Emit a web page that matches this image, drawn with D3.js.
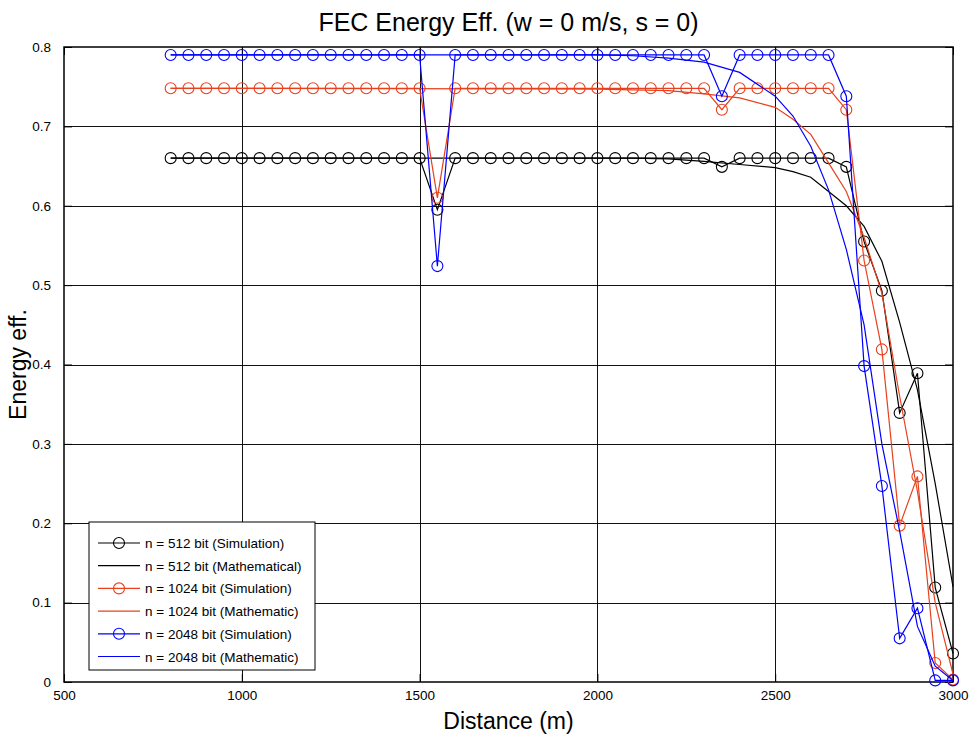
<!DOCTYPE html>
<html>
<head>
<meta charset="utf-8">
<script src="https://cdn.jsdelivr.net/npm/d3@7"></script>
<style>
  body { margin: 0; background: #fff; }
  svg { font-family: "Liberation Sans", Arial, sans-serif; }
</style>
</head>
<body>
<svg id="chart" width="971" height="738"></svg>
<script>
// simulation points: 800..3000 every 50 m
const simX = d3.range(800, 3001, 50);
const sim512 = [0.66,0.66,0.66,0.66,0.66,0.66,0.66,0.66,0.66,0.66,0.66,0.66,0.66,0.66,0.66,
  0.595,0.66,0.66,0.66,0.66,0.66,0.66,0.66,0.66,0.66,0.66,0.66,0.66,0.66,0.66,0.66,
  0.649,0.66,0.66,0.66,0.66,0.66,0.66,0.649,0.555,0.493,0.339,0.389,0.119,0.036];
const sim1024 = [0.748,0.748,0.748,0.748,0.748,0.748,0.748,0.748,0.748,0.748,0.748,0.748,0.748,0.748,0.748,
  0.61,0.748,0.748,0.748,0.748,0.748,0.748,0.748,0.748,0.748,0.748,0.748,0.748,0.748,0.748,0.748,
  0.721,0.748,0.748,0.748,0.748,0.748,0.748,0.721,0.531,0.419,0.197,0.259,0.024,0.003];
const sim2048 = [0.79,0.79,0.79,0.79,0.79,0.79,0.79,0.79,0.79,0.79,0.79,0.79,0.79,0.79,0.79,
  0.524,0.79,0.79,0.79,0.79,0.79,0.79,0.79,0.79,0.79,0.79,0.79,0.79,0.79,0.79,0.79,
  0.738,0.79,0.79,0.79,0.79,0.79,0.79,0.738,0.398,0.247,0.055,0.093,0.002,0.002];

// mathematical curves
const mathX = [800, 2000, 2100, 2200, 2300, 2400, 2500, 2550, 2600, 2650, 2700, 2750, 2800, 2850, 2900, 2950, 3000];
const math512 = [0.66, 0.66, 0.66, 0.659, 0.656, 0.652, 0.648, 0.643, 0.636, 0.618, 0.6, 0.574, 0.53, 0.453, 0.368, 0.25, 0.12];
const math1024 = [0.748, 0.747, 0.746, 0.745, 0.741, 0.736, 0.724, 0.709, 0.69, 0.654, 0.618, 0.56, 0.49, 0.36, 0.24, 0.1, 0.01];
const math2048 = [0.79, 0.79, 0.789, 0.786, 0.781, 0.768, 0.738, 0.713, 0.675, 0.62, 0.545, 0.45, 0.3, 0.19, 0.07, 0.02, 0.002];

const xTicks = [500, 1000, 1500, 2000, 2500, 3000];
const yTicks = [0, 0.1, 0.2, 0.3, 0.4, 0.5, 0.6, 0.7, 0.8];

const legendLabels = [
  "n = 512 bit (Simulation)",
  "n = 512 bit (Mathematical)",
  "n = 1024 bit (Simulation)",
  "n = 1024 bit (Mathematic)",
  "n = 2048 bit (Simulation)",
  "n = 2048 bit (Mathematic)"
];

const red = "#e8401c";
const series = [
  { x: simX, y: sim512, color: "#000", marker: true },
  { x: mathX, y: math512, color: "#000", marker: false },
  { x: simX, y: sim1024, color: red, marker: true },
  { x: mathX, y: math1024, color: red, marker: false },
  { x: simX, y: sim2048, color: "#0000ff", marker: true },
  { x: mathX, y: math2048, color: "#0000ff", marker: false }
];

const svg = d3.select("#chart");
const margin = { top: 47, right: 18, bottom: 56, left: 64 };
const W = 971, H = 738;
const innerW = W - margin.left - margin.right;
const innerH = H - margin.top - margin.bottom;

const x = d3.scaleLinear().domain([500, 3000]).range([0, innerW]);
const y = d3.scaleLinear().domain([0, 0.8]).range([innerH, 0]);

const g = svg.append("g").attr("transform", `translate(${margin.left},${margin.top})`);

// grid lines (MATLAB dotted grid, reads almost solid)
g.append("g").selectAll("line").data(xTicks.slice(1, -1)).join("line")
  .attr("x1", d => Math.round(x(d)) + 0.5).attr("x2", d => Math.round(x(d)) + 0.5)
  .attr("y1", 0).attr("y2", innerH)
  .attr("stroke", "#111").attr("shape-rendering", "crispEdges");
g.append("g").selectAll("line").data(yTicks.slice(1, -1)).join("line")
  .attr("y1", d => Math.round(y(d)) + 0.5).attr("y2", d => Math.round(y(d)) + 0.5)
  .attr("x1", 0).attr("x2", innerW)
  .attr("stroke", "#111").attr("shape-rendering", "crispEdges");

// axes (ticks inward, mirrored on top/right)
const axisStyle = sel => {
  sel.selectAll(".domain").remove();
  sel.selectAll("text").attr("font-size", "13.5px").attr("fill", "#000")
    .attr("font-family", "Liberation Sans, Arial, sans-serif");
  sel.selectAll("line").attr("stroke", "#000");
};
g.append("g").attr("transform", `translate(0,${innerH})`)
  .call(d3.axisBottom(x).tickValues(xTicks).tickSizeInner(-8).tickPadding(8).tickFormat(d3.format("d")))
  .call(axisStyle);
g.append("g")
  .call(d3.axisLeft(y).tickValues(yTicks).tickSizeInner(-8).tickPadding(13).tickFormat(d => d === 0 ? "0" : d3.format(".1f")(d)))
  .call(axisStyle);
g.append("g")
  .call(d3.axisTop(x).tickValues(xTicks).tickSizeInner(-8).tickFormat(""))
  .call(axisStyle);
g.append("g").attr("transform", `translate(${innerW},0)`)
  .call(d3.axisRight(y).tickValues(yTicks).tickSizeInner(-8).tickFormat(""))
  .call(axisStyle);

g.append("rect").attr("width", innerW).attr("height", innerH)
  .attr("fill", "none").attr("stroke", "#000").attr("stroke-width", 1.5);

// data
const line = d3.line().x(d => x(d[0])).y(d => y(d[1]));
series.forEach(s => {
  const pts = s.x.map((v, i) => [v, s.y[i]]);
  g.append("path").datum(pts).attr("d", line)
    .attr("fill", "none").attr("stroke", s.color).attr("stroke-width", 1.2);
  if (s.marker) {
    g.append("g").selectAll("circle").data(pts).join("circle")
      .attr("cx", d => x(d[0])).attr("cy", d => y(d[1])).attr("r", 5.5)
      .attr("fill", "none").attr("stroke", s.color).attr("stroke-width", 1.1);
  }
});

// legend
const lg = svg.append("g").attr("transform", "translate(89,522)");
lg.append("rect").attr("width", 226).attr("height", 148)
  .attr("fill", "#fff").attr("stroke", "#000").attr("stroke-width", 1);
series.forEach((s, i) => {
  const ly = 21 + i * 22.7;
  lg.append("line").attr("x1", 9).attr("x2", 51).attr("y1", ly).attr("y2", ly)
    .attr("stroke", s.color).attr("stroke-width", 1.2);
  if (s.marker) {
    lg.append("circle").attr("cx", 30).attr("cy", ly).attr("r", 5.5)
      .attr("fill", "none").attr("stroke", s.color).attr("stroke-width", 1.1);
  }
  lg.append("text").attr("x", 56).attr("y", ly + 5).attr("font-size", "13.5px")
    .text(legendLabels[i]);
});

// titles
svg.append("text").attr("x", margin.left + innerW / 2).attr("y", 31)
  .attr("text-anchor", "middle").attr("font-size", "25px").text("FEC Energy Eff. (w = 0 m/s, s = 0)");
svg.append("text").attr("x", margin.left + innerW / 2).attr("y", 729)
  .attr("text-anchor", "middle").attr("font-size", "23px").text("Distance (m)");
svg.append("text").attr("transform", `translate(26,${margin.top + innerH / 2}) rotate(-90)`)
  .attr("text-anchor", "middle").attr("font-size", "23px").text("Energy eff.");
</script>
</body>
</html>
